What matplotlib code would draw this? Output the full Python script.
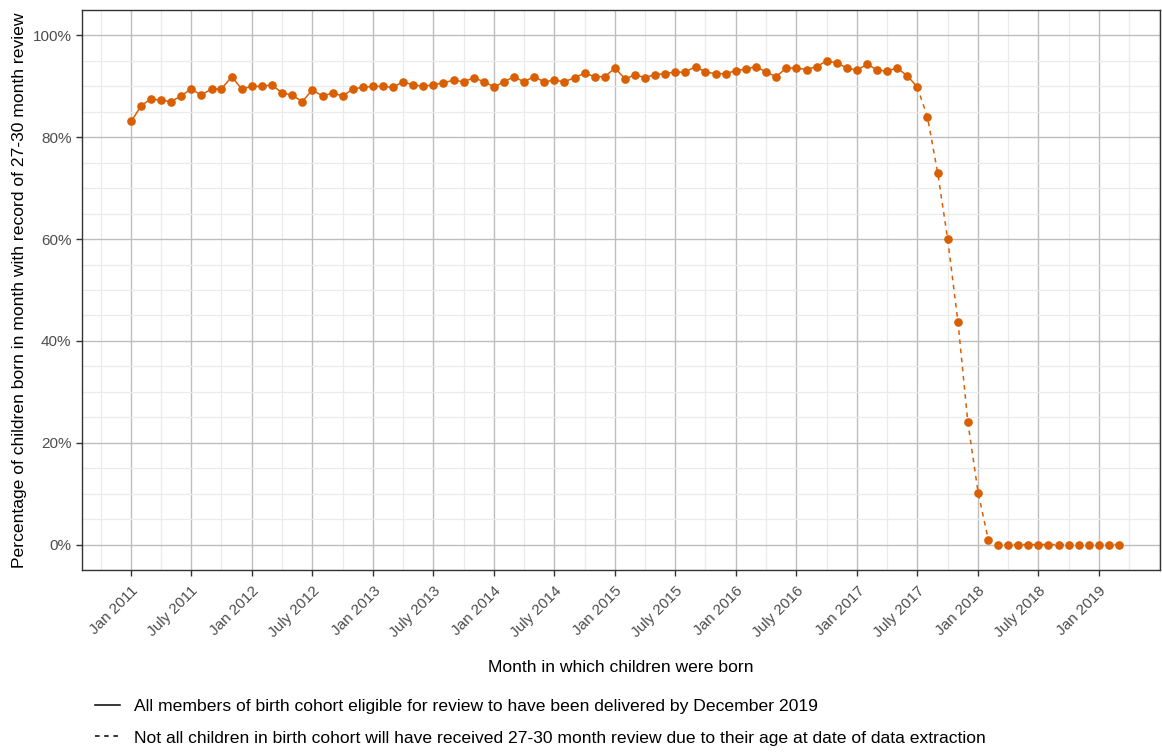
import pandas as pd
import matplotlib
matplotlib.use("Agg")
import matplotlib.pyplot as plt
from matplotlib.lines import Line2D
from matplotlib.ticker import MultipleLocator, FuncFormatter

plt.rcParams['font.family'] = ['Liberation Sans', 'DejaVu Sans']

# monthly birth cohorts, Jan 2011 .. Mar 2019
months = pd.date_range("2011-01-01", "2019-03-01", freq="MS")
pct = [
    # 2011
    83.1, 86.2, 87.5, 87.3, 87.0, 88.1, 89.5, 88.3, 89.5, 89.5, 91.9, 89.5,
    # 2012
    90.0, 90.0, 90.3, 88.7, 88.3, 87.0, 89.3, 88.1, 88.7, 88.1, 89.5, 89.8,
    # 2013
    90.0, 90.0, 89.8, 90.9, 90.3, 90.0, 90.3, 90.7, 91.2, 90.9, 91.7, 90.9,
    # 2014
    89.9, 90.9, 91.9, 90.9, 91.9, 90.9, 91.2, 90.9, 91.7, 92.6, 91.9, 91.9,
    # 2015
    93.6, 91.4, 92.3, 91.7, 92.3, 92.5, 92.8, 92.8, 93.9, 92.8, 92.5, 92.5,
    # 2016
    93.1, 93.4, 93.9, 92.8, 91.9, 93.6, 93.6, 93.3, 93.9, 95.0, 94.6, 93.6,
    # 2017
    93.2, 94.4, 93.2, 93.0, 93.6, 92.1, 89.9, 84.0, 73.0, 60.0, 43.8, 24.0,
    # 2018
    10.2, 0.85, 0, 0, 0, 0, 0, 0, 0, 0, 0, 0,
    # 2019
    0, 0, 0,
]
last_complete = pd.Timestamp("2017-07-01")

lab_solid = "All members of birth cohort eligible for review to have been delivered by December 2019"
lab_dash = ("Not all children in birth cohort will have received 27-30 month review "
            "due to their age at date of data extraction")

df = pd.DataFrame({"month": months, "pct": pct})
solid = df[df.month <= last_complete]
dashed = df[df.month >= last_complete]

ORANGE = "#D95F02"
W, H = 1162, 752
fig = plt.figure(figsize=(W / 100, H / 100), dpi=100)
ax = fig.add_axes([82 / W, 1 - 570 / H, (1160 - 82) / W, (570 - 10) / H])

ax.plot(solid.month, solid.pct, color=ORANGE, lw=1.1, ls="-", zorder=3)
ax.plot(dashed.month, dashed.pct, color=ORANGE, lw=1.1, ls=(0, (3, 3)), zorder=3)
ax.plot(df.month, df.pct, ls="none", marker="o", ms=5.2, color=ORANGE, zorder=4)

ax.set_xlim(pd.Timestamp("2011-01-01") - pd.Timedelta(days=148),
            pd.Timestamp("2019-03-01") + pd.Timedelta(days=125))
ax.set_ylim(-5, 105)

xt = pd.date_range("2011-01-01", "2019-01-01", freq="6MS")
ax.set_xticks(xt)
ax.set_xticklabels([("Jan" if d.month == 1 else "July") + f" {d.year}" for d in xt],
                   rotation=45, ha="right", va="top", rotation_mode="anchor")
ax.set_xticks(pd.date_range("2010-10-01", "2019-07-01", freq="3MS"), minor=True)
ax.yaxis.set_major_locator(MultipleLocator(20))
ax.yaxis.set_minor_locator(MultipleLocator(5))
ax.yaxis.set_major_formatter(FuncFormatter(lambda v, p: f"{v:.0f}%"))

ax.tick_params(axis="both", which="major", length=4, width=1, color="#333333",
               labelcolor="#4D4D4D", labelsize=11)
ax.tick_params(axis="x", pad=6)
ax.tick_params(which="minor", length=0)

ax.grid(which="major", color="#BEBEBE", lw=1.0)
ax.grid(which="minor", color="#EBEBEB", lw=0.9)
ax.set_axisbelow(True)
for s in ax.spines.values():
    s.set_color("#333333")
    s.set_linewidth(1.0)

ax.set_xlabel("Month in which children were born", fontsize=12.6, labelpad=14)
ax.set_ylabel("Percentage of children born in month with record of 27-30 month review",
              fontsize=12.6, labelpad=4)

handles = [Line2D([], [], color="black", lw=1.1, ls="-"),
           Line2D([], [], color="black", lw=1.1, ls=(0, (3, 3)))]
fig.legend(handles, [lab_solid, lab_dash], loc="upper left",
           bbox_to_anchor=(95 / W, 1 - 699 / H), frameon=False, fontsize=12.6,
           handlelength=1.45, handletextpad=0.75, labelspacing=0.92, borderaxespad=0,
           borderpad=0)

fig.savefig("out.png", dpi=100)
